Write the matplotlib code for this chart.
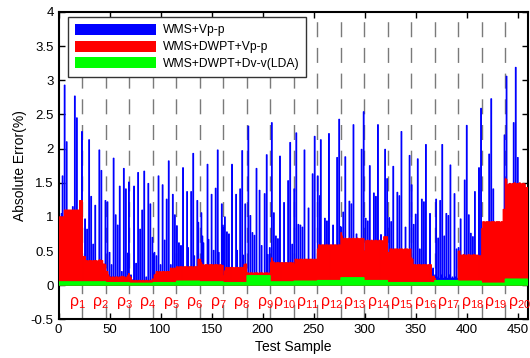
# Absolute error of the three feature sets over the 460 test samples (20 groups)

import numpy as np
import matplotlib.pyplot as plt
from matplotlib.patches import Patch

plt.rcParams['font.family'] = 'Liberation Sans'
plt.rcParams['mathtext.fontset'] = 'custom'
plt.rcParams['mathtext.rm'] = 'Liberation Sans'
plt.rcParams['mathtext.default'] = 'regular'

labels = ['WMS+Vp-p', 'WMS+DWPT+Vp-p', 'WMS+DWPT+Dv-v(LDA)']
colors = ['#0000ff', '#ff0000', '#00ff00']
group_size = 23

# WMS+Vp-p, one row per group
blue_groups = [
    [0.55, 0.9, 1.05, 1.6, 0.7, 2.93, 0.95, 2.1, 0.6, 0.85, 0.4, 0.75, 0.5, 1.15, 0.35, 2.77, 0.6, 2.45, 0.9, 0.45, 0.3, 0.4, 2.25],
    [0.3, 0.25, 0.97, 0.2, 0.82, 0.3, 2.13, 0.25, 1.3, 0.2, 0.6, 0.3, 1.17, 0.25, 0.3, 0.2, 1.98, 0.3, 1.68, 0.25, 0.2, 0.3, 1.24],
    [0.15, 1.22, 0.1, 0.48, 0.12, 0.3, 0.1, 1.86, 0.12, 1.03, 0.1, 0.88, 0.12, 1.45, 0.1, 0.2, 0.12, 1.71, 0.1, 1.41, 0.12, 0.47, 1.51],
    [0.1, 0.15, 0.06, 0.08, 1.45, 0.06, 0.32, 0.07, 1.65, 0.06, 0.82, 0.07, 1.1, 0.06, 1.67, 0.07, 0.12, 0.06, 1.49, 0.07, 1.19, 0.06, 0.7],
    [0.46, 0.48, 0.15, 0.43, 0.18, 1.6, 0.15, 0.3, 0.17, 1.47, 0.15, 0.66, 0.18, 1.26, 0.15, 1.82, 0.17, 0.3, 0.15, 1.33, 0.2, 1.03, 0.2],
    [0.87, 0.2, 0.62, 0.2, 0.58, 0.22, 1.72, 0.2, 0.25, 0.2, 1.37, 0.55, 0.22, 0.2, 1.37, 0.2, 1.93, 0.43, 0.2, 0.22, 1.24, 0.92, 0.3],
    [0.25, 1.06, 0.72, 0.62, 0.2, 0.25, 0.2, 1.77, 0.67, 0.2, 0.25, 1.33, 0.2, 0.51, 0.2, 1.42, 0.25, 1.98, 0.48, 0.2, 0.25, 1.19, 0.88],
    [0.85, 1.0, 0.2, 0.78, 0.2, 0.75, 0.2, 0.22, 1.77, 0.2, 0.22, 0.2, 1.33, 0.51, 0.2, 0.22, 1.41, 0.2, 1.97, 0.44, 0.2, 1.19, 0.25],
    [0.15, 2.33, 0.15, 1.02, 0.15, 0.77, 0.15, 0.73, 0.15, 1.71, 0.15, 0.15, 1.39, 0.15, 0.58, 0.15, 0.15, 1.34, 0.15, 1.91, 0.45, 0.15, 0.55],
    [0.25, 2.38, 0.25, 1.06, 0.2, 0.72, 0.25, 0.68, 0.2, 1.89, 0.25, 0.2, 0.25, 1.21, 0.2, 0.25, 0.2, 1.53, 0.25, 2.09, 0.2, 0.6, 0.25],
    [1.41, 0.3, 2.23, 0.3, 0.89, 0.3, 0.88, 0.3, 0.85, 0.3, 1.98, 0.3, 0.35, 0.3, 1.13, 0.3, 0.35, 0.3, 1.63, 0.3, 2.18, 0.3, 0.35],
    [1.6, 0.45, 1.31, 2.13, 0.45, 0.5, 0.45, 0.98, 0.45, 0.94, 0.5, 2.22, 0.45, 0.5, 0.45, 0.88, 0.45, 0.5, 0.45, 1.87, 0.5, 2.43, 0.86],
    [0.85, 0.5, 1.07, 0.5, 1.88, 0.5, 0.55, 0.5, 1.23, 0.5, 1.19, 0.5, 2.35, 0.5, 0.5, 0.75, 0.5, 0.55, 0.5, 0.5, 1.99, 0.5, 2.54],
    [0.5, 0.98, 0.5, 0.94, 0.5, 1.75, 0.5, 0.55, 0.5, 1.35, 0.5, 1.3, 0.5, 2.35, 0.5, 0.55, 0.74, 0.5, 0.55, 0.5, 1.99, 0.5, 1.56],
    [0.4, 0.99, 0.4, 0.93, 0.4, 1.74, 0.4, 0.45, 0.4, 1.36, 0.4, 1.31, 0.4, 2.25, 0.4, 0.45, 0.4, 0.85, 0.4, 0.45, 0.4, 1.9, 0.4],
    [1.47, 0.2, 0.89, 0.2, 1.04, 0.2, 1.85, 0.2, 0.53, 0.2, 1.26, 0.2, 1.22, 0.2, 2.06, 0.2, 0.25, 0.2, 1.05, 0.2, 0.23, 0.25, 0.1],
    [0.15, 1.26, 0.12, 0.69, 0.1, 1.24, 0.15, 2.06, 0.1, 0.72, 0.12, 1.05, 0.1, 1.02, 0.15, 1.76, 0.1, 0.12, 0.1, 1.34, 0.12, 0.53, 0.1],
    [0.55, 0.35, 0.97, 0.35, 0.4, 0.35, 1.54, 0.35, 2.34, 0.35, 1.03, 0.35, 0.76, 0.35, 0.71, 0.35, 1.37, 0.35, 0.4, 0.35, 1.72, 0.35, 2.59],
    [0.7, 0.6, 0.7, 0.6, 0.7, 0.6, 0.7, 1.92, 0.7, 2.73, 0.6, 1.41, 0.6, 0.7, 0.6, 0.7, 0.6, 0.7, 0.6, 0.7, 0.6, 0.7, 2.2],
    [1.2, 3.06, 1.41, 1.2, 1.1, 1.2, 1.1, 1.2, 2.38, 1.2, 3.19, 1.2, 1.87, 1.2, 1.1, 1.2, 1.1, 1.2, 1.1, 1.2, 1.1, 1.2, 1.1],
]

# WMS+DWPT+Vp-p
red_groups = [
    [1.0, 1.0, 1.0, 1.0, 1.0, 1.1, 1.1, 1.1, 1.1, 1.1, 1.1, 1.1, 1.1, 1.1, 1.1, 1.1, 1.1, 1.1, 1.1, 1.1, 1.24, 1.24, 1.24],
    [0.42, 0.42, 0.42, 0.36, 0.36, 0.35, 0.36, 0.36, 0.36, 0.35, 0.36, 0.36, 0.36, 0.36, 0.35, 0.36, 0.37, 0.37, 0.36, 0.36, 0.31, 0.31, 0.3],
    [0.2, 0.2, 0.15, 0.12, 0.12, 0.11, 0.12, 0.12, 0.11, 0.12, 0.12, 0.12, 0.11, 0.12, 0.12, 0.13, 0.13, 0.12, 0.12, 0.11, 0.12, 0.14, 0.17],
    [0.13, 0.11, 0.07, 0.07, 0.06, 0.07, 0.07, 0.06, 0.07, 0.07, 0.07, 0.06, 0.07, 0.07, 0.06, 0.07, 0.07, 0.07, 0.06, 0.07, 0.07, 0.06, 0.09],
    [0.09, 0.15, 0.16, 0.2, 0.2, 0.19, 0.2, 0.2, 0.19, 0.2, 0.2, 0.2, 0.19, 0.2, 0.2, 0.2, 0.2, 0.25, 0.25, 0.24, 0.25, 0.25, 0.25],
    [0.27, 0.27, 0.26, 0.27, 0.27, 0.27, 0.26, 0.27, 0.27, 0.27, 0.27, 0.26, 0.27, 0.27, 0.27, 0.27, 0.26, 0.27, 0.27, 0.27, 0.27, 0.38, 0.38],
    [0.38, 0.33, 0.3, 0.3, 0.29, 0.3, 0.3, 0.3, 0.29, 0.3, 0.3, 0.3, 0.3, 0.29, 0.3, 0.3, 0.3, 0.3, 0.29, 0.3, 0.3, 0.29, 0.29],
    [0.14, 0.21, 0.26, 0.26, 0.26, 0.25, 0.26, 0.26, 0.26, 0.26, 0.25, 0.26, 0.26, 0.26, 0.26, 0.25, 0.26, 0.26, 0.26, 0.26, 0.3, 0.31, 0.31],
    [0.18, 0.18, 0.17, 0.18, 0.18, 0.18, 0.17, 0.18, 0.18, 0.18, 0.18, 0.17, 0.18, 0.18, 0.18, 0.18, 0.17, 0.18, 0.18, 0.18, 0.18, 0.17, 0.18],
    [0.33, 0.4, 0.35, 0.33, 0.33, 0.32, 0.33, 0.33, 0.33, 0.32, 0.33, 0.33, 0.33, 0.32, 0.33, 0.33, 0.33, 0.32, 0.33, 0.33, 0.33, 0.32, 0.33],
    [0.31, 0.38, 0.38, 0.38, 0.37, 0.38, 0.38, 0.38, 0.38, 0.37, 0.38, 0.38, 0.38, 0.38, 0.37, 0.38, 0.38, 0.38, 0.38, 0.37, 0.38, 0.38, 0.38],
    [0.53, 0.59, 0.59, 0.58, 0.59, 0.59, 0.59, 0.58, 0.59, 0.59, 0.59, 0.58, 0.59, 0.59, 0.59, 0.58, 0.59, 0.59, 0.59, 0.58, 0.59, 0.59, 0.59],
    [0.77, 0.72, 0.68, 0.68, 0.69, 0.68, 0.68, 0.68, 0.69, 0.68, 0.68, 0.68, 0.69, 0.68, 0.68, 0.68, 0.69, 0.68, 0.68, 0.68, 0.69, 0.68, 0.68],
    [0.5, 0.65, 0.65, 0.66, 0.65, 0.65, 0.65, 0.66, 0.65, 0.65, 0.65, 0.66, 0.65, 0.65, 0.65, 0.66, 0.65, 0.65, 0.65, 0.71, 0.71, 0.71, 0.71],
    [0.48, 0.48, 0.53, 0.53, 0.53, 0.52, 0.53, 0.53, 0.53, 0.53, 0.52, 0.53, 0.53, 0.53, 0.53, 0.52, 0.53, 0.53, 0.53, 0.53, 0.52, 0.53, 0.53],
    [0.4, 0.38, 0.3, 0.3, 0.3, 0.29, 0.3, 0.3, 0.3, 0.3, 0.29, 0.3, 0.3, 0.3, 0.3, 0.29, 0.3, 0.3, 0.3, 0.3, 0.13, 0.13, 0.13],
    [0.1, 0.06, 0.05, 0.05, 0.05, 0.05, 0.05, 0.05, 0.05, 0.05, 0.05, 0.05, 0.05, 0.05, 0.05, 0.05, 0.05, 0.05, 0.05, 0.05, 0.05, 0.05, 0.05],
    [0.5, 0.5, 0.44, 0.44, 0.44, 0.45, 0.44, 0.44, 0.44, 0.44, 0.45, 0.44, 0.44, 0.44, 0.44, 0.45, 0.44, 0.44, 0.44, 0.44, 0.43, 0.43, 0.43],
    [0.83, 0.93, 0.93, 0.92, 0.93, 0.93, 0.93, 0.93, 0.92, 0.93, 0.93, 0.93, 0.93, 0.92, 0.93, 0.93, 0.93, 0.93, 0.92, 0.93, 0.93, 1.11, 1.11],
    [1.56, 1.55, 1.47, 1.48, 1.49, 1.49, 1.48, 1.49, 1.49, 1.5, 1.49, 1.48, 1.49, 1.49, 1.5, 1.49, 1.48, 1.49, 1.49, 1.48, 1.43, 1.43, 1.43],
]

# WMS+DWPT+Dv-v(LDA), flat within each group
green_levels = [0.05, 0.05, 0.04, 0.03, 0.04, 0.06, 0.05, 0.04, 0.14, 0.05,
                0.06, 0.07, 0.11, 0.07, 0.04, 0.04, 0.07, 0.06, 0.03, 0.09]

blue = np.concatenate(blue_groups)
red = np.concatenate(red_groups)
green = np.repeat(green_levels, group_size)
samples = np.arange(1, len(blue) + 1)
n_groups = len(blue_groups)

fig = plt.figure(figsize=(5.3, 3.58), dpi=100)
ax = fig.add_axes([0.1104, 0.1081, 0.8858, 0.8584])

# overlapping bars, blue at the back, green in front
# snap off, otherwise sub-pixel bars get rounded away; a thin edge of
# the same colour keeps the narrow spikes solid
for vals, c, z in zip([blue, red, green], colors, [2, 3, 4]):
    ax.bar(samples, vals, width=0.8, color=c, edgecolor=c, linewidth=0.7,
           zorder=z, snap=False)

# dashed separators between the groups
for k in range(1, n_groups):
    b = group_size * k + 0.5
    ax.plot([b, b], [4, -0.5], color='#7a7a7a', lw=1.0,
            ls=(11.5, (10.8, 7.7)), zorder=1)

# group names under the zero line
for k in range(1, n_groups + 1):
    x0 = group_size * (k - 1) + (10 if k < 10 else 3)
    ax.text(x0, -0.3, r'$\mathregular{\rho_{%d}}$' % k, color='#ff0000',
            fontsize=11.5, ha='left', va='baseline', zorder=5)

ax.set_xlim(0, 460)
ax.set_ylim(-0.5, 4)
ax.set_xticks(np.arange(0, 451, 50))
yt = np.arange(-0.5, 4.01, 0.5)
ax.set_yticks(yt)
ax.set_yticklabels(['%g' % v for v in yt])
ax.tick_params(direction='in', top=True, right=True, length=4, width=1,
               labelsize=9.5, pad=3.5)
for s in ax.spines.values():
    s.set_linewidth(1.5)

ax.set_xlabel('Test Sample', fontsize=10, labelpad=3)
ax.set_ylabel('Absolute Error(%)', fontsize=10, labelpad=3)

handles = [Patch(facecolor=c, edgecolor='none') for c in colors]
leg = ax.legend(handles, labels, loc='upper left', bbox_to_anchor=(0.0209, 0.9828),
                borderaxespad=0, fontsize=8.7, handlelength=6.7, handleheight=1.0,
                handletextpad=0.55, labelspacing=0.35, borderpad=0.55,
                fancybox=False, framealpha=1, edgecolor='#333333')
leg.get_frame().set_linewidth(1.0)
leg.set_zorder(10)

fig.savefig('out.png', dpi=100)
